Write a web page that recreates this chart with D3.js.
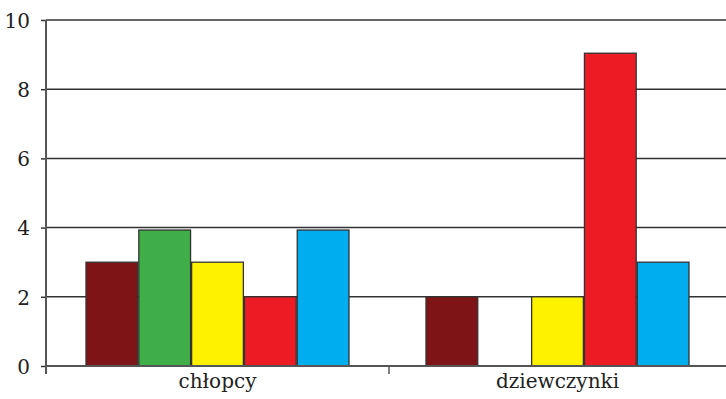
<!DOCTYPE html>
<html>
<head>
<meta charset="utf-8">
<script src="https://cdn.jsdelivr.net/npm/d3@7"></script>
<style>
  body { margin: 0; background: #fff; overflow: hidden; }
  svg text { font-family: "DejaVu Serif", serif; fill: #222; }
</style>
</head>
<body>
<div class="canvas"></div>
<script>
// data
const categories = ['chłopcy', 'dziewczynki'];
const series = ['s1', 's2', 's3', 's4', 's5'];
const colors = ['#7f1416', '#3fae49', '#fff200', '#ed1c24', '#00aeef'];
const values = [
    [3, 3.93, 3, 2, 3.93],   // chłopcy
    [2, 0, 2, 9.04, 3]       // dziewczynki
];
const yTicks = [0, 2, 4, 6, 8, 10];

const width = 726, height = 399;
const margin = { top: 20, right: 0, bottom: 33, left: 46 };
const graphWidth = width - margin.left - margin.right;
const graphHeight = height - margin.top - margin.bottom;

const svg = d3.select('.canvas')
    .append('svg')
    .attr('width', width)
    .attr('height', height)
    .style('display', 'block');

const graph = svg.append('g')
    .attr('transform', `translate(${margin.left},${margin.top})`);

const y = d3.scaleLinear()
    .domain([0, 10])
    .range([graphHeight, 0]);

// groups sit a touch right of centre in the original
const x0 = d3.scaleBand()
    .domain(categories)
    .range([1.5, graphWidth + 1.5]);

// bars take up the middle of each group band
const groupWidth = 263;
const x1 = d3.scaleBand()
    .domain(series)
    .range([(x0.bandwidth() - groupWidth) / 2, (x0.bandwidth() + groupWidth) / 2])
    .paddingInner(0.02);

// gridlines
graph.append('g')
    .selectAll('line')
    .data(yTicks.filter(d => d > 0))
    .enter()
    .append('line')
    .attr('x1', 0)
    .attr('x2', graphWidth)
    .attr('y1', d => y(d))
    .attr('y2', d => y(d))
    .attr('stroke', '#333')
    .attr('stroke-width', 1.5);

// bars
const groups = graph.selectAll('g.group')
    .data(values)
    .enter()
    .append('g')
    .attr('class', 'group')
    .attr('transform', (d, i) => `translate(${x0(categories[i])},0)`);

groups.selectAll('rect')
    .data(d => d.map((v, i) => ({ key: series[i], value: v, color: colors[i] })))
    .enter()
    .filter(d => d.value > 0)
    .append('rect')
    .attr('x', d => x1(d.key))
    .attr('width', x1.bandwidth())
    .attr('y', d => y(d.value))
    .attr('height', d => graphHeight - y(d.value))
    .attr('fill', d => d.color)
    .attr('stroke', '#333')
    .attr('stroke-width', 1.3);

// axes
const yAxis = d3.axisLeft(y)
    .tickValues(yTicks)
    .tickSize(5)
    .tickPadding(11)
    .tickSizeOuter(0);

const xAxis = d3.axisBottom(x0)
    .tickValues([])
    .tickSizeOuter(0);

const yAxisGroup = graph.append('g').call(yAxis);
const xAxisGroup = graph.append('g')
    .attr('transform', `translate(0,${graphHeight})`)
    .call(xAxis);

yAxisGroup.select('.domain').remove();
yAxisGroup.selectAll('line').attr('stroke', '#333').attr('stroke-width', 1.5);
yAxisGroup.selectAll('text')
    .style('font-size', '20px')
    .attr('dy', '0.36em');

// y axis line runs a little below the baseline
graph.append('line')
    .attr('x1', 0).attr('x2', 0)
    .attr('y1', 0).attr('y2', graphHeight + 8)
    .attr('stroke', '#555')
    .attr('stroke-width', 2);

xAxisGroup.select('.domain')
    .attr('d', `M0,0H${graphWidth}`)
    .attr('stroke', '#555')
    .attr('stroke-width', 2);

// divider tick between the groups
xAxisGroup.append('line')
    .attr('x1', x0('dziewczynki') + 1.5)
    .attr('x2', x0('dziewczynki') + 1.5)
    .attr('y1', 0)
    .attr('y2', 8)
    .attr('stroke', '#555')
    .attr('stroke-width', 1.5);

// category labels
xAxisGroup.selectAll('text.cat')
    .data(categories)
    .enter()
    .append('text')
    .attr('class', 'cat')
    .attr('x', d => x0(d) + x0.bandwidth() / 2)
    .attr('y', 22)
    .attr('text-anchor', 'middle')
    .style('font-size', '20px')
    .text(d => d);
</script>
</body>
</html>
